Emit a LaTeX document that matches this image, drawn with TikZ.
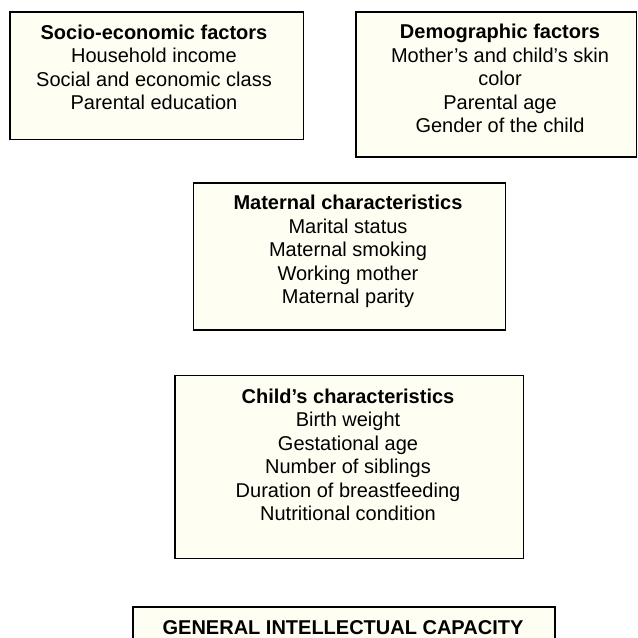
\documentclass[tikz,border=0pt]{standalone}
\usepackage{fontspec}
\setmainfont{Liberation Sans}
\definecolor{cream}{RGB}{255,254,242}
\tikzset{
  factorbox/.style={draw=black, line width=1.5pt, fill=cream},
  factortext/.style={inner sep=0pt, align=center, anchor=north, font=\fontsize{20}{23.5}\selectfont}
}
\begin{document}
\begin{tikzpicture}[x=1pt,y=-1pt]
\useasboundingbox (0,0) rectangle (638,638);
\begin{scope}
\clip (0,0) rectangle (638,638);
\fill[white] (0,0) rectangle (638,638);
\draw[factorbox] (10,12) rectangle (303.5,139.5) coordinate (b1);
\draw[factorbox] (356,12) rectangle (636.5,157) coordinate (b2);
\draw[factorbox] (193.5,183) rectangle (505.5,330) coordinate (b3);
\draw[factorbox] (175,375.5) rectangle (523.5,558.5) coordinate (b4);
\draw[factorbox] (133,607) rectangle (555,690) coordinate (b5);
\node[factortext] (t1) at (154,24.5) {\textbf{Socio-economic factors}\\Household income\\Social and economic class\\Parental education};
\node[factortext] (t2) at (500,24) {\textbf{Demographic factors}\\Mother’s and child’s skin\\color\\Parental age\\Gender of the child};
\node[factortext] (t3) at (348,195) {\textbf{Maternal characteristics}\\Marital status\\Maternal smoking\\Working mother\\Maternal parity};
\node[factortext] (t4) at (348,388.5) {\textbf{Child’s characteristics}\\Birth weight\\Gestational age\\Number of siblings\\Duration of breastfeeding\\Nutritional condition};
\node[factortext] (t5) at (343,620) {\textbf{GENERAL INTELLECTUAL CAPACITY}};
\end{scope}
\end{tikzpicture}
\end{document}
